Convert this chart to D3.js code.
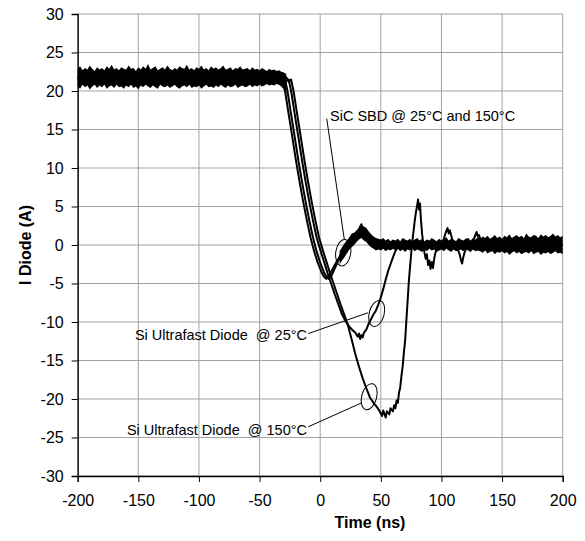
<!DOCTYPE html>
<html>
<head>
<meta charset="utf-8">
<script src="https://cdn.jsdelivr.net/npm/d3@7"></script>
<style>
  body { margin: 0; background: #fff; }
  text { font-family: "Liberation Sans", Arial, sans-serif; white-space: pre; }
</style>
</head>
<body>
<script>
// axis ticks
var timeTicks = [-200, -150, -100, -50, 0, 50, 100, 150, 200];
var currentTicks = [-30, -25, -20, -15, -10, -5, 0, 5, 10, 15, 20, 25, 30];

// noise band of the on-state current (all four traces), sampled every 2 ns from -200 ns
var plateauStart = -200, plateauStep = 2;
var plateauHi = [22.9, 23.2, 22.7, 23.0, 22.8, 23.3, 22.9, 22.6, 23.1, 22.8,
  23.0, 22.7, 23.2, 22.9, 23.4, 22.8, 23.0, 22.7, 23.1, 22.9,
  22.8, 23.3, 22.9, 23.0, 22.6, 23.1, 22.8, 23.2, 22.9, 23.5,
  22.8, 23.0, 23.2, 22.7, 22.9, 23.1, 22.8, 23.3, 22.9, 22.7,
  23.0, 22.8, 23.2, 23.0, 22.9, 23.4, 22.8, 23.0, 22.7, 23.1,
  22.9, 23.3, 22.8, 23.0, 22.7, 23.2, 22.9, 23.1, 22.8, 23.0,
  23.3, 22.8, 22.9, 23.1, 22.7, 23.0, 22.9, 23.2, 22.8, 22.9,
  23.0, 22.7, 23.1, 22.8, 22.9, 22.7, 23.0, 22.8, 22.6, 22.9,
  22.7, 22.8, 22.6, 22.7, 22.5, 22.4, 22.2];
var plateauLo = [20.6, 20.3, 20.8, 20.5, 20.7, 20.2, 20.6, 20.8, 20.4, 20.7,
  20.5, 20.8, 20.3, 20.6, 20.7, 20.4, 20.8, 20.5, 20.6, 20.3,
  20.7, 20.5, 20.8, 20.4, 20.6, 20.2, 20.7, 20.5, 20.8, 20.6,
  20.4, 20.7, 20.5, 20.3, 20.8, 20.6, 20.5, 20.7, 20.4, 20.6,
  20.8, 20.5, 20.3, 20.6, 20.7, 20.5, 20.8, 20.4, 20.6, 20.5,
  20.7, 20.3, 20.6, 20.8, 20.5, 20.6, 20.4, 20.7, 20.5, 20.8,
  20.6, 20.4, 20.7, 20.5, 20.6, 20.8, 20.4, 20.6, 20.7, 20.5,
  20.6, 20.8, 20.5, 20.7, 20.6, 20.8, 20.6, 20.7, 20.9, 20.7,
  20.8, 20.7, 20.9, 20.8, 20.6, 20.2, 19.6];

// noise band after recovery, sampled every 2 ns from 16 ns
var tailStart = 16, tailStep = 2;
var tailHi = [-0.8, -0.3, 0.2, 0.6, 1.0, 1.5, 1.6, 1.9, 2.1, 2.6, 2.4, 2.2, 1.8, 1.4, 1.1, 0.9,
  0.8, 0.7, 0.9, 0.6, 0.8, 0.5, 0.7,
  0.6, 0.8, 0.5, 0.9, 0.7, 0.6, 0.8, 0.5, 0.7, 0.9, 0.6, 0.8, 0.5, 0.7, 0.6, 0.9, 0.7, 0.5,
  0.8, 0.6, 0.7, 1.0, 0.6, 0.8, 0.7, 0.5, 0.9, 0.7, 0.6, 0.8, 0.9, 0.6, 0.8, 0.7, 1.0,
  0.8, 1.1, 0.9, 1.2, 0.8, 1.0, 1.3, 0.9, 1.1, 0.8, 1.2, 1.0, 1.4, 0.9, 1.1, 1.3, 1.0,
  1.2, 0.9, 1.5, 1.1, 1.0, 1.3, 1.2, 0.9, 1.4, 1.1, 1.3, 1.0, 1.2, 1.5, 1.1, 1.3, 1.0, 1.2];
var tailLo = [-2.5, -2.0, -1.6, -1.1, -0.6, -0.3, 0.0, 0.4, 0.7, 0.9, 0.6, 0.4, 0.0, -0.3, -0.5, -0.7,
  -0.6, -0.7, -0.5, -0.8, -0.6, -0.7, -0.5,
  -0.7, -0.5, -0.8, -0.6, -0.9, -0.6, -0.7, -0.5, -0.8, -0.6, -0.7, -0.9, -0.6, -0.8, -0.5,
  -0.7, -0.6, -0.9, -0.7, -0.6, -0.8, -0.5, -0.7, -0.9, -0.6, -0.8, -0.7, -0.6, -0.8, -0.5,
  -0.7, -0.9, -0.6, -0.8, -0.7,
  -0.8, -1.0, -0.7, -1.1, -0.9, -0.8, -1.2, -0.9, -1.0, -0.8, -1.1, -0.9, -1.3, -1.0, -0.8,
  -1.1, -0.9, -1.2, -1.0, -0.9, -1.1, -0.8, -1.2, -1.0, -0.9, -1.3, -1.0, -1.1, -0.9, -1.2,
  -1.0, -0.8, -1.1, -1.0, -1.2];

// the four traces, [time ns, current A]
var sic25 = [[-200, 21.7], [-33, 21.8], [-31, 21.4], [-29, 20.0], [-26, 17.0], [-23, 14.0], [-20, 11.0],
  [-17, 8.2], [-14, 5.6], [-11, 3.2], [-8, 1.0], [-5, -0.8], [-2, -2.3], [1, -3.5], [3, -4.1], [5, -4.4],
  [7, -4.0], [9, -3.5], [11, -2.9], [13, -2.3], [15, -1.8], [17, -1.2], [19, -0.9], [21, -0.4], [23, 0.1],
  [25, 0.6], [27, 1.0], [29, 1.4], [31, 1.7], [33, 2.4], [34, 1.7], [35, 2.3], [36, 1.4], [38, 1.6],
  [40, 0.8], [42, 0.9], [44, 0.4], [47, 0.3], [50, 0], [200, 0]];
var sic150 = [[-200, 21.6], [-31, 21.7], [-29, 21.5], [-27, 20.0], [-24, 17.0], [-21, 14.0], [-18, 11.0],
  [-15, 8.2], [-12, 5.6], [-9, 3.2], [-6, 1.0], [-3, -0.8], [0, -2.3], [3, -3.5], [5, -4.1], [7, -4.4],
  [9, -4.1], [11, -3.4], [13, -2.7], [15, -2.0], [17, -1.5], [19, -1.0], [21, -0.6], [23, -0.1], [25, 0.5],
  [27, 0.8], [29, 1.3], [31, 1.8], [32.5, 2.1], [34, 2.7], [35, 1.9], [36.5, 2.2], [38, 1.3], [40, 1.1],
  [42, 0.6], [45, 0.5], [48, 0.1], [52, 0], [200, 0]];
var si25 = [[-200, 21.7], [-30, 21.9], [-28, 21.3], [-26, 21.5], [-24, 20.0], [-21, 17.0], [-18, 14.0],
  [-15, 11.0], [-12, 8.2], [-9, 5.6], [-6, 3.2], [-3, 1.0], [0, -0.6], [3, -2.1], [6, -3.6], [9, -5.0],
  [12, -6.4], [15, -7.7], [18, -9.0], [21, -9.9], [24, -10.6], [27, -11.1], [29, -11.4], [31, -11.9],
  [32, -11.5], [33, -12.2], [34, -11.7], [35, -12.0], [36, -11.4], [38, -11.0], [40, -10.2], [42, -9.6],
  [44, -9.0], [46, -8.5], [48, -7.7], [50, -6.8], [52, -5.7], [54, -4.5], [56, -3.4], [58, -2.5],
  [60, -1.6], [62, -0.8], [64, -0.3], [67, 0], [200, 0]];
var si150 = [[-200, 21.8], [-28, 21.8], [-26, 21.2], [-24, 21.5], [-22, 20.0], [-19, 17.0], [-16, 14.0],
  [-13, 11.0], [-10, 8.2], [-7, 5.6], [-4, 3.2], [-1, 1.0], [2, -0.6], [5, -2.1], [8, -3.6], [11, -5.0],
  [14, -6.4], [17, -7.8], [20, -9.1], [23, -10.5], [26, -12.3], [29, -14.2], [32, -15.8], [35, -17.3],
  [38, -18.6], [41, -19.8], [44, -20.5], [47, -21.1], [49, -21.6], [51, -22.2], [52, -21.5], [54, -22.4],
  [55, -21.6], [57, -22.0], [58, -21.2], [60, -21.6], [61, -20.8], [62, -21.2], [63, -20.2], [64, -20.5],
  [65, -19.2], [66, -18.5], [67, -17.0], [68, -15.8], [69, -14.0], [70, -12.5], [71, -10.0], [72, -7.5],
  [73, -5.0], [74, -3.0], [75, -1.2], [76, 0.5], [77, 1.8], [78, 3.2], [79, 4.3], [80, 5.2], [80.7, 5.9],
  [81.5, 4.6], [82.3, 5.4], [83, 3.5], [84, 1.5], [85, 0.2], [86, -1.0], [87, -1.8], [88, -1.2],
  [89, -2.6], [90, -2.0], [91, -3.1], [92, -2.2], [93, -3.0], [94, -1.8], [95, -1.0], [97, -0.3],
  [100, 0.2], [102, 0.8], [103.5, 1.6], [105, 2.2], [106, 1.5], [107, 1.9], [109, 0.6], [111, 0.1],
  [113, -0.4], [115, -1.2], [116, -1.9], [117, -2.4], [118, -1.6], [119, -1.0], [121, -0.2], [124, 0.3],
  [127, 0.9], [129, 1.7], [130, 1.1], [131, 1.3], [133, 0.3], [136, 0], [200, 0]];

var width = 585,
    height = 541;

var x = d3.scaleLinear().domain([-200, 200]).range([77.7, 562.7]);
var y = d3.scaleLinear().domain([-30, 30]).range([476, 14]);

var svg = d3.select('body').append('svg')
    .attr('width', width)
    .attr('height', height);

// grid
svg.append('g').selectAll('line')
    .data(timeTicks).enter().append('line')
    .attr('x1', function(d) { return x(d); })
    .attr('x2', function(d) { return x(d); })
    .attr('y1', y(-30)).attr('y2', y(30))
    .attr('stroke', '#a3a3a3').attr('stroke-width', 1);
svg.append('g').selectAll('line')
    .data(currentTicks).enter().append('line')
    .attr('y1', function(d) { return y(d); })
    .attr('y2', function(d) { return y(d); })
    .attr('x1', x(-200)).attr('x2', x(200))
    .attr('stroke', '#a3a3a3').attr('stroke-width', 1);

// noise bands
var band = d3.area()
    .x(function(d) { return x(d.t); })
    .y0(function(d) { return y(d.lo); })
    .y1(function(d) { return y(d.hi); });

var plateau = plateauHi.map(function(v, i) {
    return { t: plateauStart + i * plateauStep, hi: v, lo: plateauLo[i] };
});
var tail = tailHi.map(function(v, i) {
    return { t: tailStart + i * tailStep, hi: v, lo: tailLo[i] };
});

svg.append('path').attr('d', band(plateau)).attr('fill', '#000');
svg.append('path').attr('d', band(tail)).attr('fill', '#000');

// traces
var line = d3.line()
    .x(function(d) { return x(d[0]); })
    .y(function(d) { return y(d[1]); });

[sic25, sic150, si25, si150].forEach(function(trace) {
    svg.append('path')
        .attr('d', line(trace))
        .attr('fill', 'none')
        .attr('stroke', '#000')
        .attr('stroke-width', 2)
        .attr('stroke-linejoin', 'round');
});

// axes
var plain = function(d) { return String(d); };
var xAxis = d3.axisBottom(x).tickValues(timeTicks).tickFormat(plain).tickSize(6).tickPadding(13);
var yAxis = d3.axisLeft(y).tickValues(currentTicks).tickFormat(plain).tickSize(6).tickPadding(8);

var gx = svg.append('g').attr('transform', 'translate(0,' + y(-30) + ')').call(xAxis);
var gy = svg.append('g').attr('transform', 'translate(' + x(-200) + ',0)').call(yAxis);

[gx, gy].forEach(function(g) {
    g.select('.domain').attr('stroke', '#000').attr('stroke-width', 1.3);
    g.selectAll('.tick line').attr('stroke', '#000');
    g.selectAll('.tick text')
        .attr('fill', '#000')
        .style('font-family', '"Liberation Sans", Arial, sans-serif')
        .style('font-size', '16px');
});

svg.append('text')
    .attr('x', 370)
    .attr('y', 528)
    .attr('text-anchor', 'middle')
    .style('font-size', '16px')
    .style('font-weight', 'bold')
    .text('Time (ns)');

svg.append('text')
    .attr('transform', 'translate(31,245) rotate(-90)')
    .attr('text-anchor', 'middle')
    .style('font-size', '16px')
    .style('font-weight', 'bold')
    .text('I Diode (A)');

// annotations (text position, leader line, ellipse centre in data units)
var notes = [
    { label: 'SiC SBD @ 25\u00b0C and 150\u00b0C', anchor: 'start', at: [8.1, 16.1],
      from: [5.4, 16.4], to: [19.9, 0.7], ring: [19.0, -1.0], rot: 8 },
    { label: 'Si Ultrafast Diode  @ 25\u00b0C', anchor: 'end', at: [-10.9, -12.3],
      from: [-9.8, -11.5], to: [39.4, -8.8], ring: [46.6, -8.9], rot: 15 },
    { label: 'Si Ultrafast Diode  @ 150\u00b0C', anchor: 'end', at: [-10.9, -24.7],
      from: [-9.8, -23.6], to: [34.2, -20.5], ring: [40.4, -19.7], rot: 15 }
];

notes.forEach(function(n) {
    svg.append('text')
        .attr('x', x(n.at[0]))
        .attr('y', y(n.at[1]))
        .attr('text-anchor', n.anchor)
        .attr('xml:space', 'preserve')
        .style('font-size', '14.5px')
        .text(n.label);
    svg.append('line')
        .attr('x1', x(n.from[0])).attr('y1', y(n.from[1]))
        .attr('x2', x(n.to[0])).attr('y2', y(n.to[1]))
        .attr('stroke', '#000').attr('stroke-width', 1);
    svg.append('ellipse')
        .attr('transform', 'translate(' + x(n.ring[0]) + ',' + y(n.ring[1]) + ') rotate(' + n.rot + ')')
        .attr('rx', 7.5).attr('ry', 13.3)
        .attr('fill', 'none')
        .attr('stroke', '#000').attr('stroke-width', 1);
});
</script>
</body>
</html>
